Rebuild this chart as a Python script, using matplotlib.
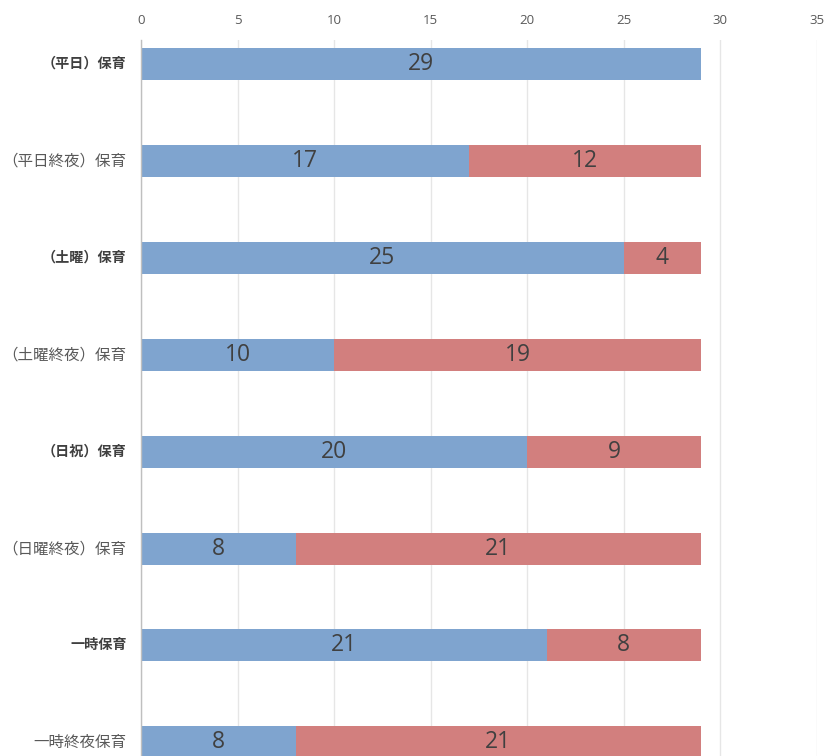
import matplotlib
matplotlib.use("Agg")
import matplotlib.pyplot as plt

categories = ["（平日）保育", "（平日終夜）保育", "（土曜）保育", "（土曜終夜）保育",
              "（日祝）保育", "（日曜終夜）保育", "一時保育", "一時終夜保育"]
bold_flags = [True, False, True, False, True, False, True, False]
series_a = [29, 17, 25, 10, 20, 8, 21, 8]
series_b = [0, 12, 4, 19, 9, 21, 8, 21]
x_ticks = [0, 5, 10, 15, 20, 25, 30, 35]

plt.rcParams['font.family'] = ['Noto Sans CJK JP', 'DejaVu Sans']

fig = plt.figure(figsize=(8.24, 7.56), dpi=100)
ax = fig.add_axes([141/824, 0.0, (817-141)/824, 1 - 40/756])

blue = "#7fa4cf"
red = "#d27f7e"
ypos = list(range(len(categories)))
h = 0.33
ax.barh(ypos, series_a, height=h, color=blue, zorder=2)
ax.barh(ypos, series_b, left=series_a, height=h, color=red, zorder=2)

for y, a, b in zip(ypos, series_a, series_b):
    if a > 0:
        ax.text(a / 2, y, str(a), ha='center', va='center', fontsize=16.5,
                color='#404040', family=['Open Sans', 'DejaVu Sans'], zorder=3)
    if b > 0:
        ax.text(a + b / 2, y, str(b), ha='center', va='center', fontsize=16.5,
                color='#404040', family=['Open Sans', 'DejaVu Sans'], zorder=3)

ax.set_xlim(0, 35)
ax.set_ylim(7.14, -0.245)
ax.xaxis.tick_top()
ax.set_xticks(x_ticks)
ax.set_xticklabels([str(t) for t in x_ticks], fontsize=9.5, color='#595959',
                   family=['Open Sans', 'DejaVu Sans'])
ax.tick_params(axis='x', length=0, pad=9)
ax.set_yticks(ypos)
ax.set_yticklabels([])
for y, lab, bf in zip(ypos, categories, bold_flags):
    if bf:
        ax.text(-0.75, y, lab, ha='right', va='center', fontsize=10.2, fontweight='bold',
                color='#404040', transform=ax.transData)
    else:
        ax.text(-0.75, y, lab, ha='right', va='center', fontsize=11.2,
                color='#595959', transform=ax.transData)
ax.tick_params(axis='y', length=0)

ax.grid(axis='x', color='#e6e6e6', linewidth=1, zorder=1)
for s in ['top', 'right', 'bottom']:
    ax.spines[s].set_visible(False)
ax.spines['left'].set_color('#bfbfbf')
ax.spines['left'].set_linewidth(1)
ax.spines['left'].set_zorder(4)

fig.savefig("out.png", dpi=100)
